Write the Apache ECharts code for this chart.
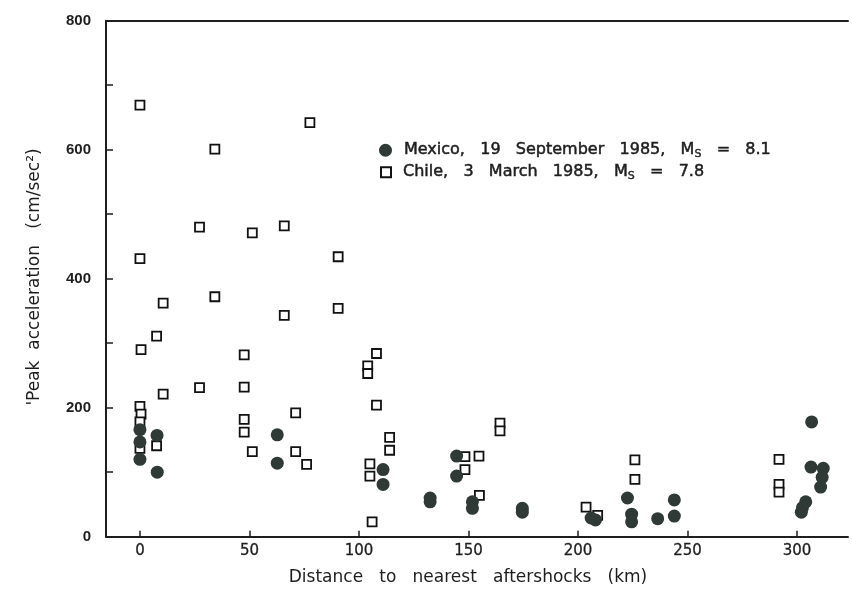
<!DOCTYPE html>
<html>
<head>
<meta charset="utf-8">
<script src="https://cdn.jsdelivr.net/npm/echarts@6/dist/echarts.min.js"></script>
<style>html,body{margin:0;padding:0;background:#fff}#c{width:852px;height:590px}</style>
</head>
<body>
<div id="c"></div>
<script>
const xTicks = [0, 50, 100, 150, 200, 250, 300];
const yTicks = [0, 200, 400, 600, 800];
const mexico = [
  [0,166],[0,147],[0,120],
  [7.8,157],[7.9,100],
  [62.7,158],[62.7,114],
  [111,104],[111,81],
  [132.5,60],[132.5,54],
  [144.6,125],[144.6,94],
  [151.8,54],[151.8,44],
  [174.6,44],[174.6,38],
  [206,29],[208,26],
  [222.6,60],[224.5,35],[224.5,23],
  [236.4,28],
  [244,57],[244,32],
  [306.7,178],[306.4,108],[312,106],[311.5,92],[310.8,77],[304,54],[302.5,45],[302,38]
];
const chile = [
  [0,669],[0,431],[0.5,290],[0,202],[0.5,190],[0,178],[0,137],
  [7.6,311],[7.6,141],
  [10.6,362],[10.6,221],
  [27.2,480],[27.2,231],
  [34.2,601],[34.2,372],
  [47.6,282],[47.6,232],[47.6,182],[47.6,162],
  [51.3,471],[51.3,132],
  [65.9,482],[65.9,343],
  [71.1,192],[71.1,132],
  [76.1,112],
  [77.6,642],
  [90.5,434],[90.5,354],
  [104,265],[104,253],
  [105,113],[105,94],
  [106,23],
  [108,284],[108,204],
  [114,154],[114,134],
  [148.4,124],[148.4,104],
  [154.8,125],[155,64],
  [164.4,176],[164.4,164],
  [203.7,46],[209,33],
  [226,119],[226,89],
  [291.8,120],[291.8,81],[291.8,69]
];
const mexicoName = 'Mexico,   19   September   1985,   M{sub|S}   =   8.1';
const chileName = 'Chile,   3   March   1985,   M{sub|S}   =   7.8';
const xTitle = 'Distance   to   nearest   aftershocks   (km)';
const yTitle = "'Peak  acceleration   (cm/sec²)";

const FONT = 'Liberation Sans';
const WIDE = 'DejaVu Sans';
const INK = '#1e1e1e';
const richSub = { sub: { fontSize: 11, fontFamily: WIDE, verticalAlign: 'bottom', padding: [7, 0, 0, 0], color: INK,
  textBorderColor: INK, textBorderWidth: 0.4 } };
const legendText = { color: INK, fontSize: 16, fontFamily: WIDE, textBorderColor: INK, textBorderWidth: 0.5, rich: richSub };
const chart = echarts.init(document.getElementById('c'));
chart.setOption({
  backgroundColor: '#fff',
  animation: false,
  textStyle: { fontFamily: FONT },
  grid: { left: 106, right: 4, top: 20.7, bottom: 53.3, containLabel: false },
  xAxis: [{
    type: 'value', min: -15.5, max: 323.3,
    axisLine: { show: true, lineStyle: { color: INK, width: 2 } },
    axisTick: { show: true, inside: true, length: 6, customValues: xTicks, lineStyle: { color: INK, width: 1.5 } },
    axisLabel: { customValues: xTicks, color: INK, fontSize: 15, margin: 7, fontFamily: WIDE,
      textBorderColor: INK, textBorderWidth: 0.3 },
    splitLine: { show: false }
  }, {
    type: 'value', position: 'top', min: -15.5, max: 323.3,
    axisLine: { show: true, lineStyle: { color: INK, width: 2 } },
    axisTick: { show: false }, axisLabel: { show: false }, splitLine: { show: false }
  }],
  yAxis: {
    type: 'value', min: 0, max: 800, interval: 100,
    axisLine: { show: true, onZero: false, lineStyle: { color: INK, width: 2 } },
    axisTick: { show: true, inside: true, length: 7, lineStyle: { color: INK, width: 1.5 } },
    axisLabel: { color: INK, fontSize: 15, fontWeight: 'bold', margin: 15, fontFamily: FONT,
      formatter: v => (yTicks.indexOf(v) >= 0 ? String(v) : '') },
    splitLine: { show: false }
  },
  legend: [{
    orient: 'vertical', left: 379, top: 142, padding: 0,
    itemWidth: 13, itemHeight: 13,
    textStyle: Object.assign({ padding: [0, 0, 0, 7] }, legendText),
    data: [{ name: mexicoName }]
  }, {
    orient: 'vertical', left: 380, top: 164, padding: 0,
    itemWidth: 10, itemHeight: 10,
    textStyle: Object.assign({ padding: [0, 0, 0, 7] }, legendText),
    data: [{ name: chileName }]
  }],
  graphic: [{
    type: 'text', x: 35, y: 277, rotation: Math.PI / 2,
    style: { text: yTitle, fill: INK, fontSize: 17, fontFamily: WIDE,
      align: 'center', verticalAlign: 'middle' }
  }, {
    type: 'text', x: 468, y: 578,
    style: { text: xTitle, fill: INK, fontSize: 17, fontFamily: WIDE,
      align: 'center', verticalAlign: 'middle' }
  }],
  series: [{
    name: mexicoName, type: 'scatter', symbol: 'circle', symbolSize: 13,
    itemStyle: { color: '#2f3a36', opacity: 1 }, data: mexico, z: 3
  }, {
    name: chileName, type: 'scatter', symbol: 'rect', symbolSize: 9,
    itemStyle: { color: '#fff', borderColor: '#111', borderWidth: 1.8, opacity: 1 }, data: chile, z: 2
  }]
});
</script>
</body>
</html>
